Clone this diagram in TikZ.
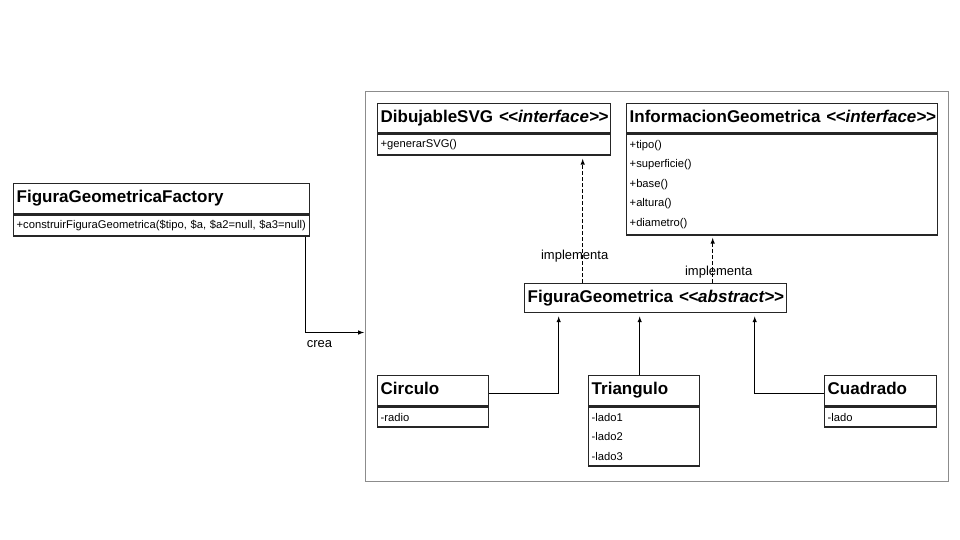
\documentclass[tikz,border=0pt]{standalone}
\usepackage{fontspec}
\setmainfont{Liberation Sans}
\usepackage{tikz}
\usetikzlibrary{positioning}
\usetikzlibrary{arrows}

\newcommand\estereotipo[1]{\textit{<\kern-0.5pt<#1>\kern-0.5pt>}}

\tikzset{
	clase/.style={draw=black!85, line width=1.4pt, inner xsep=3pt, inner ysep=0pt, align=left, text width=#1},
	titulo/.style={clase=#1, minimum height=30pt, text height=12pt, text depth=3.5pt, font=\fontsize{17}{18}\selectfont\bfseries},
	miembros/.style 2 args={clase=#1, minimum height=#2, font=\fontsize{11.2}{19.5}\selectfont},
	flecha/.style={black, line width=1pt, -latex},
	implementa/.style={flecha, dash pattern=on 4pt off 2pt},
	etiqueta/.style={font=\fontsize{13}{15}\selectfont, inner sep=1pt},
}

\begin{document}
\begin{tikzpicture}[x=1pt, y=-1pt]
	\useasboundingbox (0,0) rectangle (960,540);
	\node[draw=black!45, line width=1pt, minimum width=583pt, minimum height=390pt, inner sep=0pt, anchor=north west] (marco) at (365,91) {};

	\node[titulo=290pt, anchor=north west] (fabrica) at (13,183) {FiguraGeometricaFactory};
	\node[miembros={290pt}{21pt}, below=0pt of fabrica] (fabricaM) {+construirFiguraGeometrica(\$tipo,~\$a,~\$a2=null,~\$a3=null)};

	\node[titulo=227pt, minimum height=29pt, anchor=north west] (dibujable) at (377,103) {DibujableSVG~\estereotipo{interface}};
	\node[miembros={227pt}{21pt}, below=0pt of dibujable] (dibujableM) {+generarSVG()};

	\node[titulo=305pt, minimum height=29pt, anchor=north west] (info) at (626,103) {InformacionGeometrica~\estereotipo{interface}};
	\node[miembros={305pt}{101pt}, below=0pt of info] (infoM) {+tipo()\\+superficie()\\+base()\\+altura()\\+diametro()};

	\node[titulo=256pt, minimum height=29pt, anchor=north west] (abstracta) at (524,283) {FiguraGeometrica~\estereotipo{abstract}};

	\node[titulo=105pt, anchor=north west] (circulo) at (377,375) {Circulo};
	\node[miembros={105pt}{20pt}, below=0pt of circulo] (circuloM) {-radio};

	\node[titulo=105pt, anchor=north west] (triangulo) at (588,375) {Triangulo};
	\node[miembros={105pt}{59pt}, below=0pt of triangulo] (trianguloM) {-lado1\\-lado2\\-lado3};

	\node[titulo=106pt, anchor=north west] (cuadrado) at (824,375) {Cuadrado};
	\node[miembros={106pt}{20pt}, below=0pt of cuadrado] (cuadradoM) {-lado};

	\coordinate (i1) at ([xshift=-73pt]abstracta.north);
	\coordinate (i2) at ([xshift=57pt]abstracta.north);
	\coordinate (t1) at ([xshift=-4.5pt]triangulo.north);

	\draw[flecha, shorten >=1pt] ([xshift=-5pt]fabricaM.south east) |- ([yshift=-46pt]marco.west) node[etiqueta, pos=0.5, below right, yshift=-7pt] {crea};
	\draw[implementa, shorten >=3pt] (i1) -- (i1 |- dibujableM.south) node[etiqueta, pos=0.215, xshift=-8pt] {implementa};
	\draw[implementa, shorten >=2pt] (i2) -- (i2 |- infoM.south) node[etiqueta, pos=0.24, xshift=6pt] {implementa};
	\draw[flecha, shorten >=3pt] ([yshift=-3pt]circulo.east) -| ([xshift=-97pt]abstracta.south);
	\draw[flecha, shorten >=3pt] (t1) -- (t1 |- abstracta.south);
	\draw[flecha, shorten >=3pt] ([yshift=-3pt]cuadrado.west) -| ([xshift=99pt]abstracta.south);
\end{tikzpicture}
\end{document}
